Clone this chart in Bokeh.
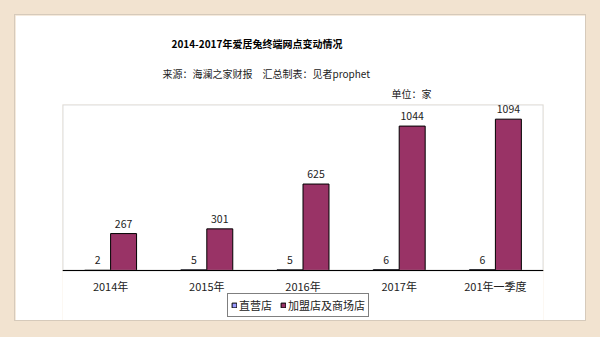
from bokeh.plotting import figure
from bokeh.models import (ColumnDataSource, FactorRange, Range1d, Title, Legend, LegendItem,
                          Span, BoxAnnotation)
from bokeh.transform import dodge
from bokeh.core.properties import value
from bokeh.embed import file_html
from bokeh.resources import INLINE

categories = ["2014年", "2015年", "2016年", "2017年", "201年一季度"]
direct_stores = [2, 5, 5, 6, 6]
franchise_stores = [267, 301, 625, 1044, 1094]
series_names = ["直营店", "加盟店及商场店"]
series_colors = ["#9999FF", "#993366"]
title_text = "2014-2017年爱居兔终端网点变动情况"
subtitle_text = "来源：海澜之家财报　汇总制表：见者prophet"
unit_text = "单位：家"

FONT = "Noto Sans CJK SC"
Y_MAX = 1200
# the frame runs below the value axis so that category labels and legend fit inside it
Y_MIN = -Y_MAX * 50 / 166

src = ColumnDataSource(dict(
    cat=categories,
    direct=direct_stores,
    franchise=franchise_stores,
    direct_lbl=[str(v) for v in direct_stores],
    franchise_lbl=[str(v) for v in franchise_stores],
))

p = figure(x_range=FactorRange(*categories, range_padding=0), y_range=Range1d(Y_MIN, Y_MAX),
           width=570, height=305, output_backend="svg", toolbar_location=None,
           x_axis_location=None, y_axis_location=None,
           min_border_left=47, min_border_right=42, min_border_top=89, min_border_bottom=0,
           margin=(15, 15, 17, 15),
           styles={"box-shadow": "0 0 0 1px #d6cabb"})
p.background_fill_color = "white"
p.border_fill_color = "white"
p.outline_line_color = None
p.xgrid.visible = False
p.ygrid.visible = False

# plot-area box (gray) and category axis line (black)
p.add_layout(BoxAnnotation(bottom=0, fill_alpha=0, line_color="#8c8c8c", line_width=2))
p.add_layout(Span(location=0, dimension="width", line_color="black", line_width=1))

bw = 0.27
r1 = p.vbar(x=dodge("cat", -bw / 2, range=p.x_range), top="direct", width=bw, source=src,
            fill_color=series_colors[0], line_color="black", line_width=1)
r2 = p.vbar(x=dodge("cat", bw / 2, range=p.x_range), top="franchise", width=bw, source=src,
            fill_color=series_colors[1], line_color="black", line_width=1)

p.text(x=dodge("cat", -bw / 2, range=p.x_range), y="direct", text="direct_lbl", source=src,
       text_font=value(FONT), text_font_size="10.5px", text_color="#222222",
       text_align="center", text_baseline="bottom", y_offset=-6)
p.text(x=dodge("cat", bw / 2, range=p.x_range), y="franchise", text="franchise_lbl", source=src,
       text_font=value(FONT), text_font_size="10.5px", text_color="#222222",
       text_align="center", text_baseline="bottom", y_offset=-6)

# category labels under the axis line
p.text(x="cat", y=0, text="cat", source=src, text_font=value(FONT), text_font_size="11px",
       text_color="#222222", text_align="center", text_baseline="middle", y_offset=15)

# titles stack outward from the frame in the order they are added
p.add_layout(Title(text=unit_text, align="left", offset=329, standoff=7,
                   text_line_height=0.7,
                   text_font=FONT, text_font_size="10px", text_font_style="normal",
                   text_color="#222222"), "above")
p.add_layout(Title(text=subtitle_text, align="left", offset=100, standoff=0,
                   text_font=FONT, text_font_size="10px", text_font_style="normal",
                   text_color="#222222"), "above")
p.add_layout(Title(text=title_text, align="left", offset=109, standoff=26,
                   text_font=FONT, text_font_size="10px", text_font_style="bold",
                   text_color="black"), "above")

legend = Legend(items=[LegendItem(label=series_names[0], renderers=[r1]),
                       LegendItem(label=series_names[1], renderers=[r2])],
                orientation="horizontal", location=(165, 3),
                label_text_font=FONT, label_text_font_size="11px", label_text_color="#222222",
                glyph_width=6, glyph_height=6, label_standoff=2, spacing=8,
                padding=3, margin=0, border_line_color="black", border_line_width=1,
                background_fill_color="white", background_fill_alpha=1,
                label_height=12)
p.add_layout(legend, "center")

html = file_html(p, INLINE)
html = html.replace("<head>", "<head><style>html,body{margin:0;padding:0;background:#f2e3d0;}</style>", 1)
open("out.html", "w").write(html)
